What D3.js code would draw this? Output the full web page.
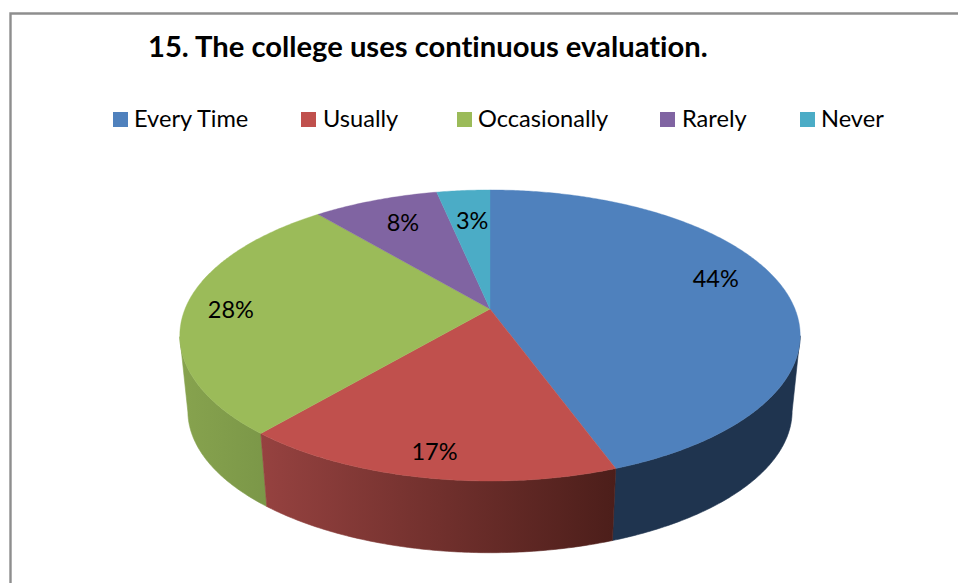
<!DOCTYPE html>
<html><head><meta charset="utf-8">
<script src="https://cdn.jsdelivr.net/npm/d3@7"></script>
<style>html,body{margin:0;padding:0;background:#fff;overflow:hidden}svg{display:block}text{font-family:Lato,"Open Sans",sans-serif;fill:#000;font-variant-ligatures:none}</style>
</head><body><svg id="c" width="958" height="583"></svg>
<script>
const titleText = "15. The college uses continuous evaluation.";
const categories = ["Every Time","Usually","Occasionally","Rarely","Never"];
const shares = [44.45,16.75,27.7,7.8,3.3];
const labels = ["44%","17%","28%","8%","3%"];

const topColors = ["#4f81bd","#c0504d","#9bbb59","#8064a2","#4bacc6"];
const sideStart = ["#1f344f","#964240","#87a34e","#5f4a78","#35808f"];
const sideEnd   = ["#1f344f","#4c1e1a","#7b9748","#5f4a78","#35808f"];
const legendSwatchX = [113,301,457,660,800];
const legendTextX = [134,323,478,682,821];
const labelRadius = [0.77,0.87,0.85,0.76,0.71];
const labelNudgeX = [0,0,0,3,2];
const labelNudgeY = [-12,0,1,0,0];

const svg = d3.select("#c");
const apex = {x:490,y:309}, R=305, S=140.7, k=0.182;
const rimCy=335.5, lowCy=411, lowScale=0.974;
const project=(a,r=1)=>{const u=Math.sin(a)*r,v=Math.cos(a)*r,w=1/(1+k*v);return [apex.x+R*u*w,apex.y-S*v*w];};
const lower=p=>[apex.x+(p[0]-apex.x)*lowScale, lowCy+(p[1]-rimCy)*lowScale];
const line=d3.line();
const arcs=d3.pie().sort(null).value(d=>d)(shares);
const sweep=(d)=>{const n=Math.max(2,Math.ceil((d.endAngle-d.startAngle)/0.01));return d3.range(n+1).map(i=>d.startAngle+(d.endAngle-d.startAngle)*i/n);};

// frame
svg.append("path").attr("d","M10.5,583V13.5H958").attr("fill","none").attr("stroke","#8e8e8e").attr("stroke-width",2.4);

const defs=svg.append("defs");
// sides: only the part of each slice's rim below the disc's widest point
const sides=svg.append("g");
[2,0,1].forEach(i=>{
  const d=arcs[i];
  const as=sweep(d).filter(a=>project(a)[1]>=rimCy);
  const top=as.map(a=>project(a));
  const bot=top.map(lower);
  const xs=top.concat(bot).map(p=>p[0]);
  const id="g"+i;
  const g=defs.append("linearGradient").attr("id",id).attr("gradientUnits","userSpaceOnUse")
    .attr("x1",d3.min(xs)).attr("x2",d3.max(xs)).attr("y1",0).attr("y2",0);
  g.append("stop").attr("offset",0).attr("stop-color",sideStart[i]);
  g.append("stop").attr("offset",1).attr("stop-color",sideEnd[i]);
  sides.append("path").attr("d",line(top.concat(bot.slice().reverse()))+"Z").attr("fill",`url(#${id})`).attr("stroke",`url(#${id})`).attr("stroke-width",0.6);
});
// top faces
svg.append("g").selectAll("path").data(arcs).join("path")
  .attr("d",d=>line([[apex.x,apex.y]].concat(sweep(d).map(a=>project(a))))+"Z")
  .attr("fill",(d,i)=>topColors[i]).attr("stroke",(d,i)=>topColors[i]).attr("stroke-width",0.4);

// labels
svg.append("g").selectAll("text").data(arcs).join("text")
  .attr("x",(d,i)=>project((d.startAngle+d.endAngle)/2,labelRadius[i])[0]+labelNudgeX[i])
  .attr("y",(d,i)=>project((d.startAngle+d.endAngle)/2,labelRadius[i])[1]+labelNudgeY[i]+8)
  .attr("text-anchor","middle").attr("font-size",23.5).text((d,i)=>labels[i]);

// title and legend
svg.append("text").attr("x",148).attr("y",57).attr("font-size",29.2).attr("font-weight",700).text(titleText);
const leg=svg.append("g").selectAll("g").data(categories).join("g");
leg.append("rect").attr("x",(d,i)=>legendSwatchX[i]).attr("y",112).attr("width",15).attr("height",15).attr("fill",(d,i)=>topColors[i]);
leg.append("text").attr("x",(d,i)=>legendTextX[i]).attr("y",127).attr("font-size",23.6).text(d=>d);
</script></body></html>
